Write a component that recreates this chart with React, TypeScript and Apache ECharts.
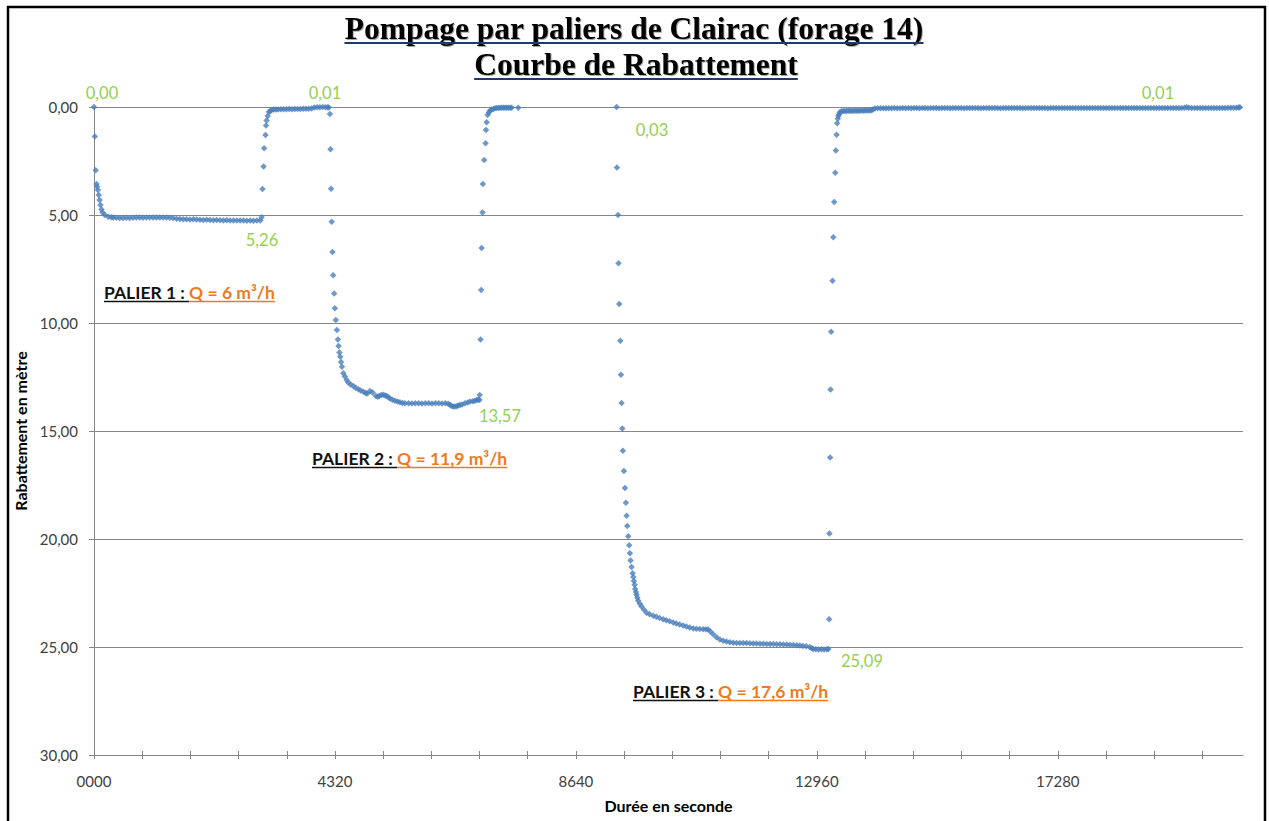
import React, { useEffect, useRef } from 'react';
import * as echarts from 'echarts';

// ---------- DATA (time in seconds, drawdown in metres) ----------
const palier1: [number, number][] = [
  [0, 0.0], [15, 1.37], [30, 2.93], [45, 3.56], [55, 3.69], [70, 3.84], [85, 4.07], [100, 4.31],
  [115, 4.54], [135, 4.74], [155, 4.89], [195, 5.0], [255, 5.08], [310, 5.1], [345, 5.12],
  [400, 5.13], [460, 5.14], [520, 5.14], [580, 5.13], [640, 5.14], [700, 5.13], [760, 5.12],
  [820, 5.12], [880, 5.13], [940, 5.12], [1000, 5.11], [1060, 5.12], [1120, 5.12], [1180, 5.11],
  [1240, 5.12], [1300, 5.12], [1360, 5.13], [1420, 5.14], [1480, 5.17], [1540, 5.19], [1600, 5.2],
  [1660, 5.2], [1720, 5.21], [1780, 5.2], [1840, 5.21], [1900, 5.22], [1960, 5.23], [2020, 5.22],
  [2080, 5.23], [2140, 5.24], [2200, 5.23], [2260, 5.24], [2320, 5.25], [2380, 5.24], [2440, 5.25],
  [2500, 5.26], [2560, 5.25], [2620, 5.26], [2680, 5.26], [2740, 5.27], [2800, 5.26], [2860, 5.27],
  [2920, 5.26], [2980, 5.26], [3005, 5.1],
];

const recovery1: [number, number][] = [
  [3020, 3.8], [3040, 2.76], [3050, 1.91], [3075, 1.3], [3085, 0.86], [3095, 0.63], [3115, 0.42],
  [3135, 0.23], [3160, 0.18], [3185, 0.14], [3220, 0.12], [3260, 0.11], [3300, 0.11], [3350, 0.1],
  [3400, 0.1], [3450, 0.1], [3500, 0.09], [3550, 0.1], [3600, 0.09], [3650, 0.09], [3700, 0.09],
  [3750, 0.08], [3800, 0.08], [3850, 0.08], [3900, 0.07], [3950, 0.02], [4000, 0.01], [4050, 0.01],
  [4100, 0.0], [4150, 0.01], [4190, 0.01], [4210, 0.02],
];

const palier2: [number, number][] = [
  [4230, 0.32], [4240, 1.96], [4250, 3.78], [4262, 5.31], [4275, 6.71], [4287, 7.79], [4305, 8.63],
  [4318, 9.32], [4335, 9.86], [4355, 10.32], [4372, 10.76], [4385, 11.06], [4400, 11.37],
  [4415, 11.56], [4430, 11.8], [4445, 12.02], [4470, 12.33], [4499, 12.48], [4530, 12.64],
  [4559, 12.76], [4600, 12.85], [4649, 12.92], [4690, 13.0], [4738, 13.07], [4780, 13.12],
  [4828, 13.18], [4870, 13.24], [4899, 13.26], [4947, 13.15], [4995, 13.22], [5055, 13.38],
  [5090, 13.41], [5114, 13.38], [5150, 13.33], [5186, 13.32], [5220, 13.36], [5246, 13.38],
  [5280, 13.44], [5306, 13.49], [5350, 13.55], [5395, 13.6], [5440, 13.64], [5485, 13.67],
  [5530, 13.7], [5575, 13.72], [5640, 13.72], [5700, 13.73], [5760, 13.72], [5820, 13.72],
  [5880, 13.73], [5940, 13.72], [6000, 13.72], [6060, 13.73], [6120, 13.72], [6180, 13.72],
  [6240, 13.73], [6300, 13.72], [6350, 13.74], [6381, 13.78], [6410, 13.84], [6441, 13.87],
  [6470, 13.86], [6501, 13.85], [6530, 13.82], [6561, 13.8], [6600, 13.77], [6650, 13.72],
  [6700, 13.68], [6740, 13.64], [6790, 13.62], [6829, 13.6], [6860, 13.57], [6889, 13.55],
  [6910, 13.57], [6915, 13.33],
];

const recovery2: [number, number][] = [
  [6931, 10.76], [6942, 8.47], [6950, 6.53], [6965, 4.88], [6972, 3.56], [6995, 2.45], [7020, 1.68],
  [7028, 1.06], [7040, 0.71], [7057, 0.37], [7080, 0.25], [7098, 0.17], [7130, 0.12], [7160, 0.09],
  [7188, 0.06], [7220, 0.05], [7250, 0.05], [7280, 0.04], [7310, 0.04], [7340, 0.04], [7370, 0.03],
  [7400, 0.04], [7430, 0.03], [7460, 0.03], [7487, 0.03], [7606, 0.04],
];

const palier3: [number, number][] = [
  [9370, 0.0], [9375, 2.8], [9395, 5.0], [9404, 7.23], [9416, 9.12], [9436, 10.82], [9447, 12.4],
  [9459, 13.7], [9472, 14.89], [9482, 15.92], [9500, 16.85], [9520, 17.64], [9536, 18.32],
  [9548, 18.92], [9560, 19.4], [9578, 19.87], [9596, 20.29], [9608, 20.66], [9620, 20.99],
  [9638, 21.3], [9656, 21.58], [9668, 21.76], [9680, 21.94], [9692, 22.12], [9703, 22.31],
  [9715, 22.45], [9727, 22.58], [9742, 22.72], [9757, 22.86], [9787, 23.0], [9817, 23.13],
  [9860, 23.28], [9907, 23.41], [9960, 23.48], [10026, 23.55], [10080, 23.6], [10140, 23.66],
  [10205, 23.72], [10260, 23.76], [10320, 23.81], [10384, 23.86], [10440, 23.91], [10500, 23.96],
  [10563, 24.01], [10620, 24.05], [10680, 24.1], [10743, 24.14], [10800, 24.16], [10860, 24.17],
  [10920, 24.18], [10970, 24.18], [11012, 24.19], [11050, 24.28], [11101, 24.41], [11160, 24.55],
  [11221, 24.65], [11280, 24.71], [11340, 24.75], [11400, 24.78], [11460, 24.8], [11520, 24.81],
  [11580, 24.81], [11640, 24.82], [11700, 24.82], [11760, 24.83], [11820, 24.84], [11880, 24.84],
  [11940, 24.85], [12000, 24.85], [12060, 24.86], [12120, 24.86], [12180, 24.86], [12240, 24.87],
  [12300, 24.87], [12360, 24.88], [12420, 24.89], [12480, 24.9], [12540, 24.91], [12600, 24.92],
  [12655, 24.93], [12710, 24.95], [12770, 24.97], [12834, 25.0], [12870, 25.06], [12894, 25.09],
  [12940, 25.1], [12990, 25.11], [13040, 25.1], [13090, 25.11], [13140, 25.1], [13165, 25.09],
];

const recovery3: [number, number][] = [
  [13180, 23.72], [13185, 19.74], [13198, 16.23], [13205, 13.08], [13216, 10.4], [13240, 8.04],
  [13255, 6.03], [13270, 4.4], [13290, 3.04], [13300, 2.01], [13313, 1.28], [13324, 0.75],
  [13335, 0.54], [13345, 0.42], [13360, 0.33], [13372, 0.24], [13400, 0.2], [13431, 0.18],
  [13460, 0.18], [13490, 0.18], [13520, 0.17], [13550, 0.17], [13580, 0.18], [13610, 0.17],
  [13640, 0.17], [13670, 0.17], [13700, 0.17], [13730, 0.17], [13760, 0.16], [13790, 0.17],
  [13820, 0.16], [13850, 0.16], [13880, 0.16], [13910, 0.16], [13940, 0.15], [13965, 0.12],
];

const recoveryFinal: [number, number][] = [
  [14000, 0.07], [14050, 0.06], [14100, 0.06], [14150, 0.06], [14200, 0.06], [14250, 0.06],
  [14300, 0.06], [14350, 0.05], [14400, 0.06], [14450, 0.06], [14500, 0.05], [14550, 0.06],
  [14600, 0.05], [14650, 0.06], [14700, 0.05], [14750, 0.05], [14800, 0.06], [14850, 0.05],
  [14900, 0.05], [14950, 0.06], [15000, 0.05], [15050, 0.05], [15100, 0.05], [15150, 0.06],
  [15200, 0.05], [15250, 0.05], [15300, 0.05], [15350, 0.06], [15400, 0.05], [15450, 0.05],
  [15500, 0.05], [15550, 0.05], [15600, 0.06], [15650, 0.05], [15700, 0.05], [15750, 0.05],
  [15800, 0.05], [15850, 0.05], [15900, 0.06], [15950, 0.05], [16000, 0.05], [16050, 0.05],
  [16100, 0.05], [16150, 0.05], [16200, 0.05], [16250, 0.06], [16300, 0.05], [16350, 0.05],
  [16400, 0.05], [16450, 0.05], [16500, 0.05], [16550, 0.05], [16600, 0.05], [16650, 0.06],
  [16700, 0.05], [16750, 0.05], [16800, 0.05], [16850, 0.05], [16900, 0.05], [16950, 0.05],
  [17000, 0.05], [17050, 0.05], [17100, 0.06], [17150, 0.05], [17200, 0.05], [17250, 0.05],
  [17300, 0.05], [17350, 0.05], [17400, 0.05], [17450, 0.05], [17500, 0.05], [17550, 0.05],
  [17600, 0.05], [17650, 0.05], [17700, 0.05], [17750, 0.05], [17800, 0.05], [17850, 0.05],
  [17900, 0.05], [17950, 0.05], [18000, 0.05], [18050, 0.05], [18100, 0.05], [18150, 0.05],
  [18200, 0.05], [18250, 0.05], [18300, 0.05], [18350, 0.05], [18400, 0.05], [18450, 0.05],
  [18500, 0.05], [18550, 0.05], [18600, 0.05], [18650, 0.05], [18700, 0.05], [18750, 0.05],
  [18800, 0.05], [18850, 0.05], [18900, 0.05], [18950, 0.05], [19000, 0.05], [19050, 0.05],
  [19100, 0.05], [19150, 0.05], [19200, 0.05], [19250, 0.05], [19300, 0.05], [19350, 0.05],
  [19400, 0.05], [19450, 0.05], [19500, 0.05], [19550, 0.04], [19590, 0.01], [19630, 0.04],
  [19680, 0.05], [19730, 0.05], [19780, 0.05], [19830, 0.05], [19880, 0.05], [19930, 0.05],
  [19980, 0.05], [20030, 0.05], [20080, 0.05], [20130, 0.05], [20180, 0.05], [20230, 0.05],
  [20280, 0.05], [20330, 0.04], [20380, 0.04], [20430, 0.04], [20480, 0.03], [20520, 0.02],
  [20545, 0.01],
];

const xLabelValues = [0, 4320, 8640, 12960, 17280];
const xLabelTexts = ['0000', '4320', '8640', '12960', '17280'];
const xTickValues = [
  0, 864, 1728, 2592, 3456, 4320, 5184, 6048, 6912, 7776, 8640, 9504, 10368, 11232, 12096,
  12960, 13824, 14688, 15552, 16416, 17280, 18144, 19008, 19872,
];
const yTickLabels = ['0,00', '5,00', '10,00', '15,00', '20,00', '25,00', '30,00'];

const titleLines = ['Pompage par paliers de Clairac (forage 14)', 'Courbe de Rabattement'];
const valueLabelTexts = ['0,00', '0,01', '5,26', '13,57', '0,03', '25,09', '0,01'];
const palierNames = ['PALIER 1 : ', 'PALIER 2 : ', 'PALIER 3 : '];
const palierFlows = ['Q = 6 m³/h', 'Q = 11,9 m³/h', 'Q = 17,6 m³/h'];

// ---------- LAYOUT ----------
const SANS = 'Lato, "Noto Sans", sans-serif';
const SERIF = '"Liberation Serif", "Times New Roman", serif';
const valueLabelPos: [number, number][] = [
  [102, 93], [325, 93], [262, 240], [500, 416], [652, 130], [862, 661], [1158, 93],
];
const palierPos: [number, number][] = [
  [104, 292], [312, 458], [633, 691],
];
const titlePos: [number, number][] = [[634, 28], [636, 64]];
const titleUnderlineY = [43, 79];

function measure(text: string, font: string): number {
  const c = document.createElement('canvas').getContext('2d');
  if (!c) return text.length * 8;
  c.font = font;
  return c.measureText(text).width;
}

export default function App() {
  const ref = useRef<HTMLDivElement>(null);

  useEffect(() => {
    document.body.style.margin = '0';
    if (!ref.current) return;
    const chart = echarts.init(ref.current, undefined, { renderer: 'svg' });

    const graphics: any[] = [];

    // outer frame
    graphics.push({
      type: 'rect',
      shape: { x: 8, y: 7, width: 1257, height: 830 },
      style: { fill: 'none', stroke: '#000', lineWidth: 2.5 },
      silent: true,
      z: 100,
    });

    // title
    const titleSize = 31.5;
    titleLines.forEach((t, i) => {
      const font = `bold ${titleSize}px ${SERIF}`;
      const w = measure(t, font);
      const [cx, cy] = titlePos[i];
      graphics.push({
        type: 'text',
        x: cx,
        y: cy,
        style: {
          text: t,
          fontFamily: SERIF,
          fontWeight: 'bold',
          fontSize: titleSize,
          fill: '#000',
          align: 'center',
          verticalAlign: 'middle',
          textShadowColor: 'rgba(0,0,0,0.35)',
          textShadowOffsetX: 1,
          textShadowOffsetY: 1,
          textShadowBlur: 1,
        },
        z: 50,
      });
      graphics.push({
        type: 'line',
        shape: { x1: cx - w / 2, y1: titleUnderlineY[i], x2: cx + w / 2, y2: titleUnderlineY[i] },
        style: { stroke: '#1f3a68', lineWidth: 2 },
        z: 50,
      });
    });

    // value labels (green)
    valueLabelTexts.forEach((t, i) => {
      const [x, y] = valueLabelPos[i];
      graphics.push({
        type: 'text',
        x,
        y,
        style: {
          text: t,
          fontFamily: SANS,
          fontSize: 16.5,
          fill: '#92d050',
          align: 'center',
          verticalAlign: 'middle',
        },
        z: 50,
      });
    });

    // palier annotations
    const pSize = 17.5;
    const pFont = `bold ${pSize}px ${SANS}`;
    palierNames.forEach((name, i) => {
      const [x, y] = palierPos[i];
      const w1 = measure(name, pFont);
      const w2 = measure(palierFlows[i], pFont);
      graphics.push({
        type: 'text',
        x,
        y,
        style: {
          text: name,
          fontFamily: SANS,
          fontWeight: 'bold',
          fontSize: pSize,
          fill: '#111',
          align: 'left',
          verticalAlign: 'middle',
        },
        z: 50,
      });
      graphics.push({
        type: 'text',
        x: x + w1,
        y,
        style: {
          text: palierFlows[i],
          fontFamily: SANS,
          fontWeight: 'bold',
          fontSize: pSize,
          fill: '#ee7a1e',
          align: 'left',
          verticalAlign: 'middle',
        },
        z: 50,
      });
      graphics.push({
        type: 'line',
        shape: { x1: x, y1: y + 9.5, x2: x + w1, y2: y + 9.5 },
        style: { stroke: '#111', lineWidth: 1.5 },
        z: 50,
      });
      graphics.push({
        type: 'line',
        shape: { x1: x + w1, y1: y + 9.5, x2: x + w1 + w2, y2: y + 9.5 },
        style: { stroke: '#ee7a1e', lineWidth: 1.5 },
        z: 50,
      });
    });

    const axisGray = '#868686';
    const allData = [
      ...palier1, ...recovery1, ...palier2, ...recovery2, ...palier3, ...recovery3, ...recoveryFinal,
    ];

    const option: any = {
      animation: false,
      backgroundColor: '#fff',
      grid: { left: 94, right: 26, top: 107, bottom: 66, containLabel: false },
      xAxis: [
        {
          type: 'value',
          min: 0,
          max: 20600,
          position: 'bottom',
          name: 'Durée en seconde',
          nameLocation: 'middle',
          nameGap: 42,
          nameTextStyle: { fontFamily: SANS, fontWeight: 'bold', fontSize: 16, color: '#000' },
          axisLine: { show: true, onZero: false, lineStyle: { color: axisGray, width: 1 } },
          axisTick: {
            show: true,
            customValues: xTickValues,
            length: 4,
            inside: false,
            lineStyle: { color: axisGray },
          },
          axisLabel: {
            customValues: xLabelValues,
            formatter: (v: number) => {
              const idx = xLabelValues.indexOf(v);
              return idx >= 0 ? xLabelTexts[idx] : '';
            },
            fontFamily: SANS,
            fontSize: 15,
            color: '#404040',
            margin: 18,
          },
          splitLine: { show: false },
        },
        {
          type: 'value',
          min: 0,
          max: 20600,
          position: 'bottom',
          axisLine: { show: false, onZero: false },
          axisTick: {
            show: true,
            customValues: xTickValues,
            length: 4,
            inside: true,
            lineStyle: { color: axisGray },
          },
          axisLabel: { show: false },
          splitLine: { show: false },
        },
      ],
      yAxis: {
        type: 'value',
        inverse: true,
        min: 0,
        max: 30,
        interval: 5,
        name: 'Rabattement en mètre',
        nameLocation: 'middle',
        nameGap: 63,
        nameRotate: 90,
        nameTextStyle: { fontFamily: SANS, fontWeight: 'bold', fontSize: 16, color: '#000' },
        axisLine: { show: true, lineStyle: { color: axisGray, width: 1 } },
        axisTick: { show: true, length: 5, inside: false, lineStyle: { color: axisGray } },
        axisLabel: {
          formatter: (v: number) => yTickLabels[Math.round(v / 5)] ?? '',
          fontFamily: SANS,
          fontSize: 15,
          color: '#404040',
          margin: 16,
        },
        splitLine: { show: true, lineStyle: { color: axisGray, width: 1 } },
      },
      series: [
        {
          type: 'scatter',
          xAxisIndex: 0,
          data: allData,
          symbol: 'diamond',
          symbolSize: 6.5,
          itemStyle: { color: '#4a7ebb' },
          clip: false,
        },
      ],
      graphic: graphics,
    };

    chart.setOption(option);
    return () => chart.dispose();
  }, []);

  return <div ref={ref} style={{ width: 1269, height: 821 }} />;
}
